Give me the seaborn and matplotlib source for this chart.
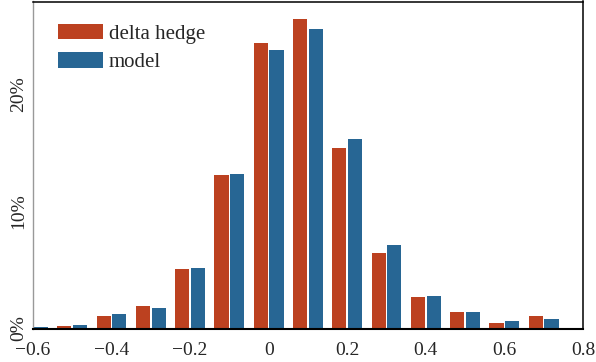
import matplotlib
matplotlib.use("Agg")
import matplotlib.pyplot as plt
import matplotlib.ticker as mticker
import seaborn as sns
import pandas as pd

# ---- data (percent of observations per bin, bins of width 0.1) ----
bin_centers = [-0.6, -0.5, -0.4, -0.3, -0.2, -0.1, 0.0, 0.1, 0.2, 0.3, 0.4, 0.5, 0.6, 0.7]
delta_hedge = [0.3, 0.2, 1.05, 1.94, 5.07, 13.08, 24.36, 26.4, 15.38, 6.44, 2.65, 1.45, 0.51, 1.03]
model = [0.12, 0.28, 1.22, 1.71, 5.15, 13.19, 23.76, 25.56, 16.15, 7.09, 2.74, 1.37, 0.60, 0.77]
series_names = ["delta hedge", "model"]
x_ticks = [-0.6, -0.4, -0.2, 0.0, 0.2, 0.4, 0.6, 0.8]
x_tick_labels = ["\u22120.6", "\u22120.4", "\u22120.2", "0", "0.2", "0.4", "0.6", "0.8"]
y_ticks = [0, 10, 20]
y_tick_labels = ["0%", "10%", "20%"]

df = pd.DataFrame({
    "center": bin_centers * 2,
    "pct": delta_hedge + model,
    "series": [series_names[0]] * len(bin_centers) + [series_names[1]] * len(bin_centers),
})

sns.set_style("white")
plt.rcParams["font.family"] = ["Liberation Serif", "DejaVu Serif"]

fig = plt.figure(figsize=(5.96, 3.62), dpi=100)
ax = fig.add_axes([33 / 596, 33.5 / 362, 550 / 596, 327 / 362])

palette = {"delta hedge": "#bc4120", "model": "#276694"}
sns.barplot(data=df, x="center", y="pct", hue="series", hue_order=series_names,
            native_scale=True, width=0.8, gap=0.1, errorbar=None,
            palette=palette, saturation=1, linewidth=0, ax=ax, legend=True)

ax.set_xlim(-0.6, 0.8)
ax.set_ylim(0, 27.9)
ax.set_xlabel("")
ax.set_ylabel("")

ax.set_xticks(x_ticks)
ax.set_xticklabels(x_tick_labels, fontsize=14)
ax.xaxis.set_minor_locator(mticker.FixedLocator([-0.4, 0.0, 0.2, 0.6]))
ax.tick_params(axis="x", which="major", length=0, pad=10)
ax.tick_params(axis="x", which="minor", length=7.5, width=1.0, color="black", direction="out")

ax.set_yticks(y_ticks)
ax.set_yticklabels(y_tick_labels, fontsize=14, rotation=90, va="center")
ax.yaxis.set_minor_locator(mticker.FixedLocator([0]))
ax.tick_params(axis="y", which="major", length=0, pad=4)
ax.tick_params(axis="y", which="minor", length=9, width=1.0, color="#aaaaaa", direction="out")

for side in ["top", "right"]:
    ax.spines[side].set_visible(True)
    ax.spines[side].set_color("black")
    ax.spines[side].set_linewidth(1.1)
ax.spines["bottom"].set_color("black")
ax.spines["bottom"].set_linewidth(1.5)
ax.spines["left"].set_color("#999999")
ax.spines["left"].set_linewidth(1.0)

sns.move_legend(ax, "upper left", bbox_to_anchor=(0.031, 0.958), frameon=False, title=None,
                fontsize=15, handlelength=2.16, handleheight=0.78, handletextpad=0.25,
                labelspacing=0.4, borderaxespad=0)

fig.savefig("out.png", dpi=100)
